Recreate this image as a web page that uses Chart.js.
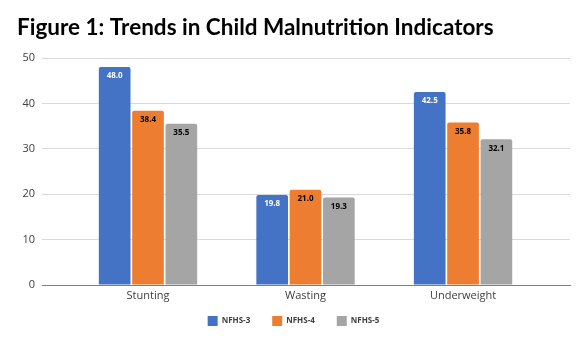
<!DOCTYPE html>
<html>
<head>
<meta charset="utf-8">
<script src="https://cdn.jsdelivr.net/npm/chart.js@4/dist/chart.umd.min.js"></script>
<style>
  html, body { margin: 0; padding: 0; background: #fff; }
  #wrap { width: 587px; height: 344px; position: relative; }
</style>
</head>
<body>
<div id="wrap"><canvas id="myChart"></canvas></div>
<script>
// malnutrition indicators, % of children under 5
const categories = ["Stunting", "Wasting", "Underweight"];
const nfhs3 = [48.0, 19.8, 42.5];
const nfhs4 = [38.4, 21.0, 35.8];
const nfhs5 = [35.5, 19.3, 32.1];
const yTicks = [0, 10, 20, 30, 40, 50];

const colores = ["#4472C4", "#ED7D31", "#A5A5A5"];
const colorTexto = ["#ffffff", "#000000", "#000000"];

// numbers written inside the top of every bar
const etiquetas = {
  id: "etiquetas",
  afterDatasetsDraw(chart) {
    const ctx = chart.ctx;
    ctx.save();
    ctx.font = "bold 8px 'Open Sans'";
    ctx.textAlign = "center";
    ctx.textBaseline = "middle";
    chart.data.datasets.forEach((ds, i) => {
      const meta = chart.getDatasetMeta(i);
      meta.data.forEach((bar, j) => {
        ctx.fillStyle = colorTexto[i];
        ctx.fillText(ds.data[j].toFixed(1), bar.x, bar.y + 9);
      });
    });
    ctx.restore();
  }
};

new Chart("myChart", {
  type: "bar",
  data: {
    labels: categories,
    datasets: [
      { label: "NFHS-3", data: nfhs3, backgroundColor: colores[0] },
      { label: "NFHS-4", data: nfhs4, backgroundColor: colores[1] },
      { label: "NFHS-5", data: nfhs5, backgroundColor: colores[2] }
    ]
  },
  options: {
    responsive: true,
    maintainAspectRatio: false,
    animation: false,
    categoryPercentage: 0.635,
    barPercentage: 0.95,
    borderRadius: { topLeft: 2, topRight: 2 },
    layout: { padding: { left: 17, right: 17, top: 0, bottom: 8 } },
    plugins: {
      title: {
        display: true,
        text: "Figure 1: Trends in Child Malnutrition Indicators",
        align: "start",
        color: "#000",
        font: { family: "Lato", size: 22.5, weight: "bold" },
        padding: { top: 14, bottom: 17 }
      },
      legend: {
        position: "bottom",
        labels: {
          boxWidth: 10,
          boxHeight: 10,
          padding: 22,
          color: "#404040",
          font: { family: "Open Sans", size: 8, weight: "bold" }
        }
      },
      tooltip: { enabled: false }
    },
    scales: {
      x: {
        grid: { display: false, drawTicks: false },
        border: { display: true, color: "#808080", width: 1 },
        ticks: { color: "#404040", font: { family: "Open Sans", size: 11 }, padding: 4 },
        // squeeze the three groups toward the middle like the spreadsheet does
        afterBuildTicks(s) {
          s._startValue = -0.673;
          s._valueRange = 3.352;
        },
        // labels hang into the legend's space, so don't clip them to the axis box
        afterFit(s) {
          s.height = 9;
          s._computeLabelArea = () => undefined;
        }
      },
      y: {
        min: 0,
        max: 50,
        afterBuildTicks(s) { s.ticks = yTicks.map(v => ({ value: v })); },
        afterFit(s) { s.width = 25; },
        grid: { color: "#d9d9d9", drawTicks: false },
        border: { display: false },
        ticks: { color: "#404040", font: { family: "Open Sans", size: 11 }, padding: 7 }
      }
    }
  },
  plugins: [etiquetas]
});
</script>
</body>
</html>
